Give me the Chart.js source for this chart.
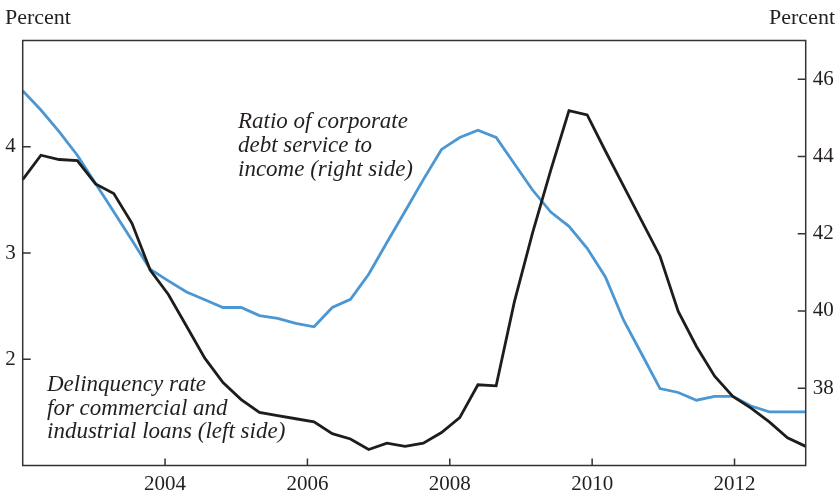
<!DOCTYPE html>
<html>
<head>
<meta charset="utf-8">
<script src="https://cdn.jsdelivr.net/npm/chart.js@4.4.1/dist/chart.umd.min.js"></script>
<style>
  html, body { margin: 0; padding: 0; background: #fff; }
  canvas { display: block; }
</style>
</head>
<body>
<canvas id="debtChart" width="840" height="497"></canvas>
<script>
// quarters 2002:Q1 .. 2012:Q4
const quarters = [];
for (let yr = 2002; yr <= 2012; yr++) {
    for (let q = 1; q <= 4; q++) quarters.push(yr + ' Q' + q);
}

// Delinquency rate for C&I loans, percent (left axis)
const delinquencyRate = [
    3.69, 3.92, 3.88, 3.87, 3.65, 3.56, 3.28, 2.84, 2.61, 2.31, 2.01,
    1.78, 1.62, 1.50, 1.47, 1.44, 1.41, 1.30, 1.25, 1.15, 1.21, 1.18,
    1.21, 1.31, 1.45, 1.76, 1.75, 2.54, 3.19, 3.78, 4.34, 4.30, 3.96,
    3.63, 3.30, 2.97, 2.45, 2.12, 1.84, 1.65, 1.54, 1.41, 1.26, 1.18
];

// Ratio of corporate debt service to income, percent (right axis)
const debtServiceRatio = [
    45.70, 45.20, 44.64, 44.03, 43.30, 42.57, 41.83, 41.08, 40.78, 40.49, 40.29,
    40.09, 40.09, 39.88, 39.81, 39.68, 39.59, 40.09, 40.30, 40.95, 41.77, 42.58,
    43.40, 44.18, 44.49, 44.68, 44.49, 43.81, 43.13, 42.56, 42.19, 41.62, 40.88,
    39.76, 38.88, 37.99, 37.89, 37.69, 37.79, 37.79, 37.54, 37.39, 37.39, 37.39
];

const yearTicks = [2004, 2006, 2008, 2010, 2012];
const leftTicks = [2, 3, 4];
const rightTicks = [38, 40, 42, 44, 46];

const inkColor = '#231f20';
const serif = '"Liberation Serif", "Times New Roman", serif';

// frame, inward tick marks, unit labels and the two notes
const decorations = {
    id: 'decorations',
    afterDraw(chart) {
        const c = chart.ctx;
        const a = chart.chartArea;
        const s = chart.scales;
        c.save();
        c.strokeStyle = '#333';
        c.lineWidth = 1.5;
        c.strokeRect(a.left, a.top, a.right - a.left, a.bottom - a.top);

        c.beginPath();
        leftTicks.forEach(v => {
            const y = s.y.getPixelForValue(v);
            c.moveTo(a.left, y); c.lineTo(a.left + 8, y);
        });
        rightTicks.forEach(v => {
            const y = s.y1.getPixelForValue(v);
            c.moveTo(a.right, y); c.lineTo(a.right - 8, y);
        });
        yearTicks.forEach(v => {
            const x = s.year.getPixelForValue(v);
            c.moveTo(x, a.bottom); c.lineTo(x, a.bottom - 7);
        });
        c.stroke();

        c.fillStyle = inkColor;
        c.textBaseline = 'middle';
        c.font = '22px ' + serif;
        c.textAlign = 'left';
        c.fillText('Percent', 5, 18);
        c.textAlign = 'right';
        c.fillText('Percent', 835, 18);

        c.font = 'italic 23px ' + serif;
        c.textAlign = 'left';
        ['Ratio of corporate', 'debt service to', 'income (right side)'].forEach((t, i) => {
            c.fillText(t, 238, 122 + i * 24);
        });
        ['Delinquency rate', 'for commercial and', 'industrial loans (left side)'].forEach((t, i) => {
            c.fillText(t, 47, 385 + i * 23.5);
        });
        c.restore();
    }
};

const tickFont = { family: serif, size: 21 };

new Chart(document.getElementById('debtChart'), {
    type: 'line',
    data: {
        labels: quarters,
        datasets: [
            {
                label: 'Delinquency rate for commercial and industrial loans',
                data: delinquencyRate,
                yAxisID: 'y',
                borderColor: '#1d1d1b',
                borderWidth: 2.8,
                pointRadius: 0,
                tension: 0
            },
            {
                label: 'Ratio of corporate debt service to income',
                data: debtServiceRatio,
                yAxisID: 'y1',
                borderColor: '#4b97d3',
                borderWidth: 2.8,
                pointRadius: 0,
                tension: 0
            }
        ]
    },
    options: {
        responsive: false,
        animation: false,
        layout: { padding: { top: 40.5, left: 0, right: 0, bottom: 0 } },
        plugins: {
            legend: { display: false },
            tooltip: { enabled: false }
        },
        scales: {
            x: { type: 'category', display: false, offset: false },
            year: {
                type: 'linear',
                axis: 'x',
                position: 'bottom',
                min: 2002,
                max: 2013,
                afterBuildTicks: sc => { sc.ticks = yearTicks.map(v => ({ value: v })); },
                afterFit: sc => { sc.height = 31.5; },
                grid: { display: false, drawTicks: false },
                border: { display: false },
                ticks: { font: tickFont, color: inkColor, padding: 6, maxRotation: 0, callback: v => String(v) }
            },
            y: {
                type: 'linear',
                position: 'left',
                min: 1,
                max: 5,
                afterBuildTicks: sc => { sc.ticks = leftTicks.map(v => ({ value: v })); },
                afterFit: sc => { sc.width = 22.7; },
                grid: { display: false, drawTicks: false },
                border: { display: false },
                ticks: { font: tickFont, color: inkColor, padding: 7 }
            },
            y1: {
                type: 'linear',
                position: 'right',
                min: 36,
                max: 47,
                afterBuildTicks: sc => { sc.ticks = rightTicks.map(v => ({ value: v })); },
                afterFit: sc => { sc.width = 34.3; },
                grid: { display: false, drawTicks: false },
                border: { display: false },
                ticks: { font: tickFont, color: inkColor, padding: 7 }
            }
        }
    },
    plugins: [decorations]
});
</script>
</body>
</html>
